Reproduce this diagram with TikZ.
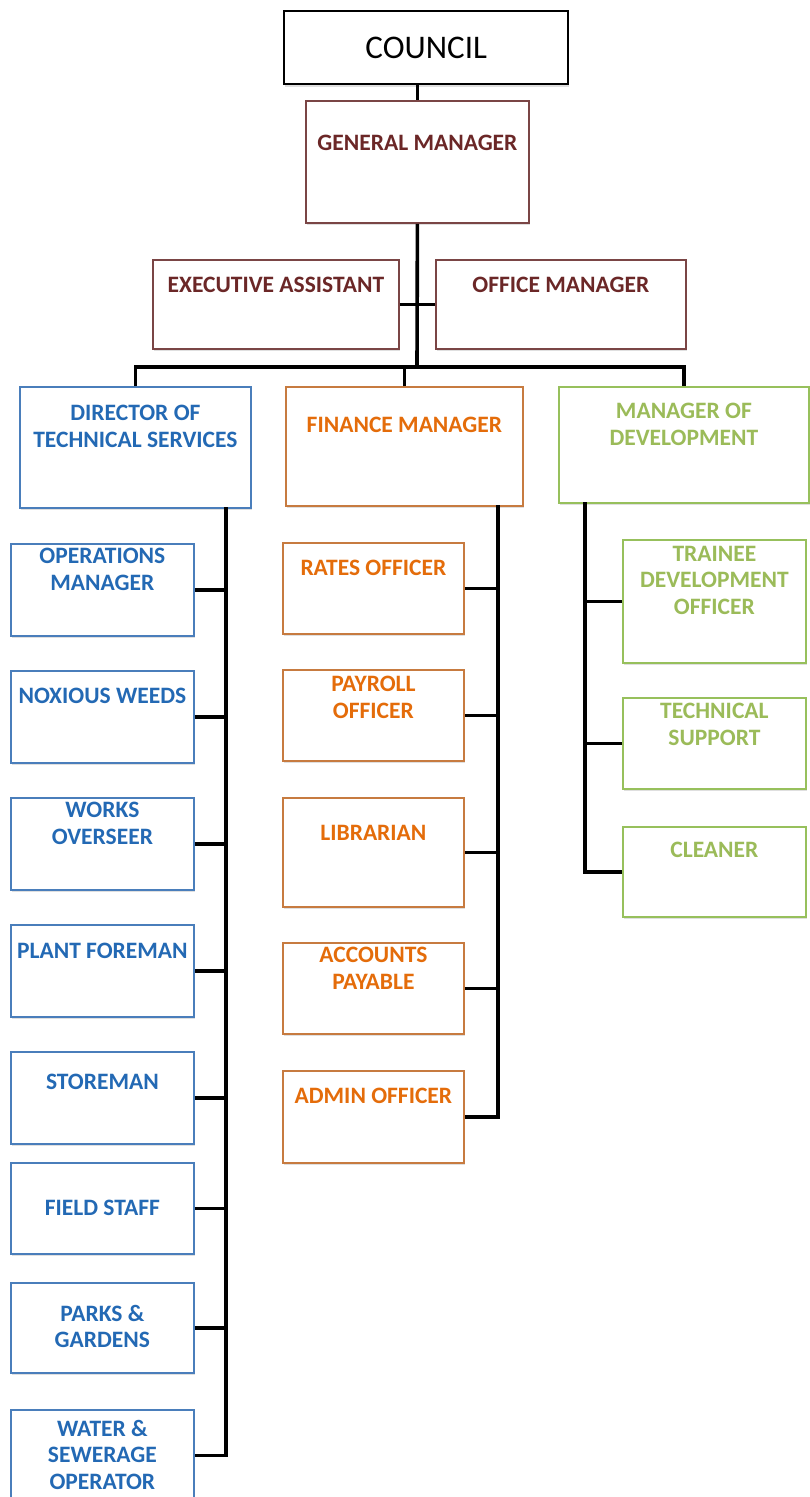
\documentclass[tikz,border=0pt]{standalone}
\usepackage{fontspec}
\setmainfont{Carlito}
\usetikzlibrary{positioning,shadows}

\definecolor{winetxt}{HTML}{6B2727}
\definecolor{wineline}{HTML}{7A4545}
\definecolor{bluetxt}{HTML}{2369B4}
\definecolor{blueline}{HTML}{4A7EBB}
\definecolor{orangetxt}{HTML}{E46C0A}
\definecolor{orangeline}{HTML}{C77B40}
\definecolor{greentxt}{HTML}{9BBB59}
\definecolor{greenline}{HTML}{97C05C}

\begin{document}
\begin{tikzpicture}[x=1pt, y=-1pt,
        box/.style={draw, line width=1.8pt, fill=white, anchor=north west, inner sep=0pt,
            drop shadow={shadow xshift=1pt, shadow yshift=-2.5pt, opacity=.25}},
        wine/.style={box, draw=wineline},
        blue/.style={box, draw=blueline, minimum width=183pt},
        orange/.style={box, draw=orangeline, minimum width=181pt},
        green/.style={box, draw=greenline, minimum width=183pt},
        txt/.style={font=\bfseries\fontsize{23.5}{26.5}\selectfont, align=center, inner sep=0pt},
        link/.style={line width=3.6pt, line join=miter}]

    \useasboundingbox (0,0) rectangle (810,1497);

    % top of the chart
    \node[box, line width=2.4pt, minimum width=284pt, minimum height=73pt, font=\fontsize{33}{36}\selectfont] (council) at (283,10) {COUNCIL};
    \node[wine, minimum width=223pt, minimum height=122pt] (gm) at (305,100) {};
    \node[txt, text=winetxt, below=35pt of gm.north] {GENERAL MANAGER};
    \node[wine, minimum width=246pt, minimum height=89pt] (ea) at (152,259) {};
    \node[txt, text=winetxt, below=18pt of ea.north] {EXECUTIVE ASSISTANT};
    \node[wine, minimum width=250pt, minimum height=89pt] (om) at (435,259) {};
    \node[txt, text=winetxt, below=18pt of om.north] {OFFICE MANAGER};

    % heads of the three departments
    \node[box, draw=blueline, minimum width=231pt, minimum height=121pt] (dts) at (19,386) {};
    \node[txt, text=bluetxt, below=19pt of dts.north] {DIRECTOR OF\\TECHNICAL SERVICES};
    \node[box, draw=orangeline, minimum width=237pt, minimum height=119pt] (fin) at (285,386) {};
    \node[txt, text=orangetxt, below=31pt of fin.north] {FINANCE MANAGER};
    \node[box, draw=greenline, minimum width=250pt, minimum height=116pt] (dev) at (558,386) {};
    \node[txt, text=greentxt, below=17pt of dev.north] {MANAGER OF\\DEVELOPMENT};

    % technical services
    \node[blue, minimum height=92pt] (ops) at (10,543) {};
    \node[txt, text=bluetxt, below=5pt of ops.north] {OPERATIONS\\MANAGER};
    \node[blue, minimum height=92pt] (weeds) at (10,670) {};
    \node[txt, text=bluetxt, below=18pt of weeds.north] {NOXIOUS WEEDS};
    \node[blue, minimum height=92pt] (works) at (10,797) {};
    \node[txt, text=bluetxt, below=5pt of works.north] {WORKS\\OVERSEER};
    \node[blue, minimum height=92pt] (plant) at (10,924) {};
    \node[txt, text=bluetxt, below=19pt of plant.north] {PLANT FOREMAN};
    \node[blue, minimum height=92pt] (store) at (10,1051) {};
    \node[txt, text=bluetxt, below=23pt of store.north] {STOREMAN};
    \node[blue, minimum height=91pt] (field) at (10,1162) {};
    \node[txt, text=bluetxt, below=38pt of field.north] {FIELD STAFF};
    \node[blue, minimum height=90pt] (parks) at (10,1282) {};
    \node[txt, text=bluetxt, below=23pt of parks.north] {PARKS \&\\GARDENS};
    \node[blue, minimum height=91pt] (water) at (10,1409) {};
    \node[txt, text=bluetxt, below=11pt of water.north] {WATER \&\\SEWERAGE\\OPERATOR};

    % finance
    \node[orange, minimum height=91pt] (rates) at (282,542) {};
    \node[txt, text=orangetxt, below=18pt of rates.north] {RATES OFFICER};
    \node[orange, minimum height=91pt] (payroll) at (282,669) {};
    \node[txt, text=orangetxt, below=7pt of payroll.north] {PAYROLL\\OFFICER};
    \node[orange, minimum height=109pt] (library) at (282,797) {};
    \node[txt, text=orangetxt, below=28pt of library.north] {LIBRARIAN};
    \node[orange, minimum height=91pt] (accounts) at (282,942) {};
    \node[txt, text=orangetxt, below=5pt of accounts.north] {ACCOUNTS\\PAYABLE};
    \node[orange, minimum height=92pt] (admin) at (282,1070) {};
    \node[txt, text=orangetxt, below=18pt of admin.north] {ADMIN OFFICER};

    % development
    \node[green, minimum height=123pt] (trainee) at (622,539) {};
    \node[txt, text=greentxt, below=7pt of trainee.north] {TRAINEE\\DEVELOPMENT\\OFFICER};
    \node[green, minimum height=91pt] (support) at (622,697) {};
    \node[txt, text=greentxt, below=6pt of support.north] {TECHNICAL\\SUPPORT};
    \node[green, minimum height=90pt] (cleaner) at (622,826) {};
    \node[txt, text=greentxt, below=16pt of cleaner.north] {CLEANER};

    % connectors
    \coordinate (hub) at (417,367);
    \coordinate (dtsbus) at (226,507);
    \coordinate (finbus) at (498,505);
    \coordinate (devbus) at (585,502);

    \draw[link] (council.south -| gm.north) -- (gm.north);
    \draw[link] (gm.south) -- (hub);
    \draw[link] (ea.east) -- (om.west);
    \draw[link] (dts.north) |- (hub) -| (dev.north);
    \draw[link] (fin.north) -- (fin.north |- hub);

    \draw[link] (dtsbus) |- (water.east);
    \foreach \n in {ops,weeds,works,plant,store,field,parks}
        \draw[link] (\n.east) -- (\n.east -| dtsbus);
    \draw[link] (finbus) |- (admin.east);
    \foreach \n in {rates,payroll,library,accounts}
        \draw[link] (\n.east) -- (\n.east -| finbus);
    \draw[link] (devbus) |- (cleaner.west);
    \foreach \n in {trainee,support}
        \draw[link] (\n.west) -- (\n.west -| devbus);
\end{tikzpicture}
\end{document}
